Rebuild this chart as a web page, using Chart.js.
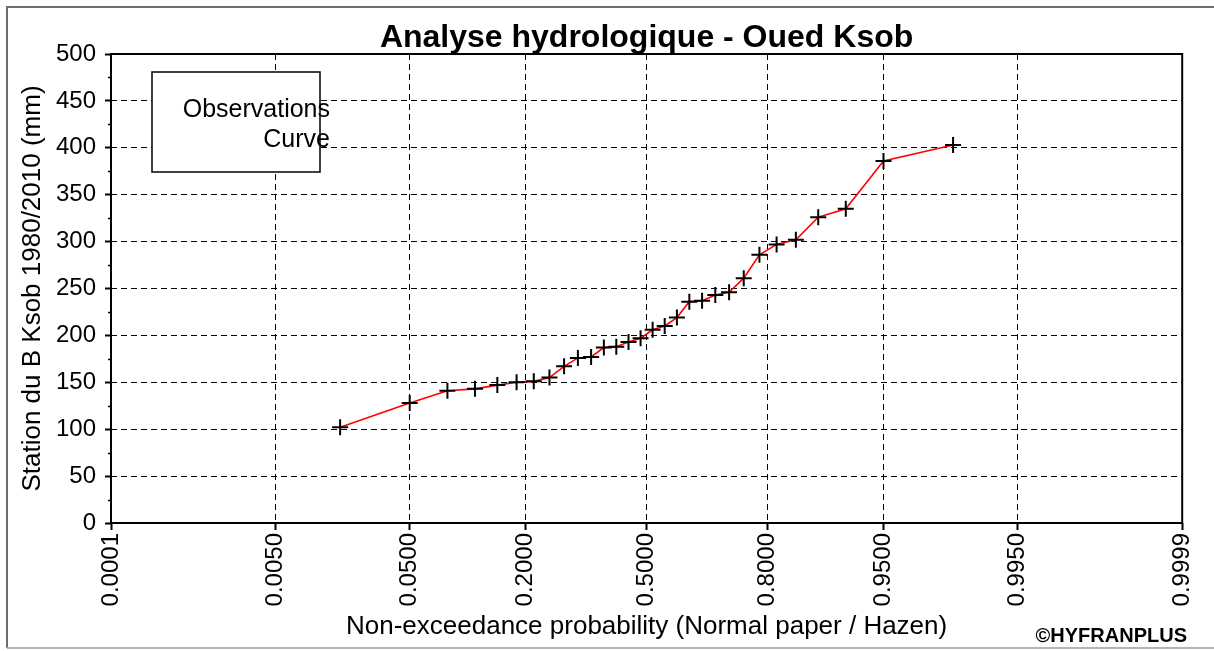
<!DOCTYPE html>
<html>
<head>
<meta charset="utf-8">
<script src="https://cdn.jsdelivr.net/npm/chart.js@4.4.0/dist/chart.umd.min.js"></script>
<style>
  html, body { margin: 0; padding: 0; background: #fff; }
  canvas { display: block; }
</style>
</head>
<body>
<canvas id="hydroChart" width="1214" height="651"></canvas>
<script>
// Annual totals, ranked ascending (mm)
const rainfall = [102, 128, 141, 143, 147, 150, 151, 155, 167, 176, 177, 187, 188, 193, 197,
                  206, 210, 219, 236, 237, 243, 246, 261, 286, 297, 302, 326, 335, 386, 403];
const probTicks = [0.0001, 0.005, 0.05, 0.2, 0.5, 0.8, 0.95, 0.995, 0.9999];
const yMin = 0;
const yMax = 500;
const yStep = 50;

const chartTitle = 'Analyse hydrologique - Oued Ksob';
const yAxisTitle = 'Station du B Ksob 1980/2010 (mm)';
const xAxisTitle = 'Non-exceedance probability (Normal paper / Hazen)';
const legendLabels = ['Observations', 'Curve'];
const credit = '\u00A9HYFRANPLUS';

const FONT = "'Liberation Sans', Arial, sans-serif";
const TEXT_COLOR = '#000';

// Inverse of the standard normal CDF (Acklam's rational approximation)
function probit(p) {
  const a = [-3.969683028665376e+01, 2.209460984245205e+02, -2.759285104469687e+02,
             1.383577518672690e+02, -3.066479806614716e+01, 2.506628277459239e+00];
  const b = [-5.447609879822406e+01, 1.615858368580409e+02, -1.556989798598866e+02,
             6.680131188771972e+01, -1.328068155288572e+01];
  const c = [-7.784894002430293e-03, -3.223964580411365e-01, -2.400758277161838e+00,
             -2.549732539343734e+00, 4.374664141464968e+00, 2.938163982698783e+00];
  const d = [7.784695709041462e-03, 3.224671290700398e-01, 2.445134137142996e+00,
             3.754408661907416e+00];
  const pLow = 0.02425;
  if (p < pLow) {
    const q = Math.sqrt(-2 * Math.log(p));
    return (((((c[0] * q + c[1]) * q + c[2]) * q + c[3]) * q + c[4]) * q + c[5]) /
           ((((d[0] * q + d[1]) * q + d[2]) * q + d[3]) * q + 1);
  }
  if (p > 1 - pLow) return -probit(1 - p);
  const q = p - 0.5;
  const r = q * q;
  return (((((a[0] * r + a[1]) * r + a[2]) * r + a[3]) * r + a[4]) * r + a[5]) * q /
         (((((b[0] * r + b[1]) * r + b[2]) * r + b[3]) * r + b[4]) * r + 1);
}

// Hazen plotting positions on normal paper
const points = rainfall.map((v, i) => ({ x: probit((i + 0.5) / rainfall.length), y: v }));

// Frame, minor ticks, title, legend box and credit
const decorations = {
  id: 'decorations',
  beforeDraw(chart) {
    const { ctx } = chart;
    ctx.save();
    ctx.lineWidth = 2;
    ctx.strokeStyle = '#6e6e6e';
    ctx.beginPath();
    ctx.moveTo(7, 648);
    ctx.lineTo(7, 7);
    ctx.lineTo(1214, 7);
    ctx.stroke();
    ctx.strokeStyle = '#b4b4b4';
    ctx.beginPath();
    ctx.moveTo(7, 648);
    ctx.lineTo(1214, 648);
    ctx.stroke();
    ctx.restore();
  },
  afterDraw(chart) {
    const { ctx, chartArea: area, scales } = chart;
    ctx.save();

    ctx.strokeStyle = '#000';
    ctx.lineWidth = 2;
    ctx.strokeRect(area.left, area.top, area.right - area.left, area.bottom - area.top);

    ctx.lineWidth = 1.5;
    ctx.beginPath();
    for (let v = yMin + yStep / 2; v < yMax; v += yStep) {
      const py = Math.round(scales.y.getPixelForValue(v)) + 0.5;
      ctx.moveTo(area.left - 3, py);
      ctx.lineTo(area.left, py);
    }
    ctx.stroke();

    ctx.fillStyle = TEXT_COLOR;
    ctx.font = `bold 32px ${FONT}`;
    ctx.textAlign = 'center';
    ctx.textBaseline = 'alphabetic';
    ctx.fillText(chartTitle, (area.left + area.right) / 2, 47);

    ctx.fillStyle = '#fff';
    ctx.fillRect(152, 72, 168, 100);
    ctx.lineWidth = 1.5;
    ctx.strokeRect(152, 72, 168, 100);
    ctx.fillStyle = TEXT_COLOR;
    ctx.font = `25px ${FONT}`;
    ctx.textAlign = 'right';
    ctx.fillText(legendLabels[0], 330, 117);
    ctx.fillText(legendLabels[1], 330, 147);

    ctx.font = `bold 20px ${FONT}`;
    ctx.fillText(credit, 1187, 642);
    ctx.restore();
  }
};

const tickFont = { family: FONT, size: 24 };
const titleFont = { family: FONT, size: 26 };

new Chart(document.getElementById('hydroChart'), {
  type: 'scatter',
  data: {
    datasets: [{
      label: legendLabels[0],
      data: points,
      showLine: false,
      pointStyle: 'cross',
      pointRadius: 8,
      pointBorderWidth: 2,
      pointBorderColor: '#000',
      pointBackgroundColor: '#000'
    }, {
      label: legendLabels[1],
      data: points,
      showLine: true,
      borderColor: '#ff0000',
      borderWidth: 1.6,
      pointRadius: 0,
      tension: 0
    }]
  },
  options: {
    responsive: false,
    animation: false,
    events: [],
    layout: { padding: { left: 8, top: 54, right: 28, bottom: 0 } },
    plugins: {
      legend: { display: false },
      tooltip: { enabled: false },
      title: { display: false }
    },
    scales: {
      x: {
        type: 'linear',
        min: probit(probTicks[0]),
        max: probit(probTicks[probTicks.length - 1]),
        afterBuildTicks: scale => {
          scale.ticks = probTicks.map(p => ({ value: probit(p) }));
        },
        afterFit: scale => { scale.height = 128; },
        ticks: {
          autoSkip: false,
          minRotation: 90,
          maxRotation: 90,
          padding: 3,
          color: TEXT_COLOR,
          font: tickFont,
          callback: (value, index) => probTicks[index].toFixed(4)
        },
        grid: { color: '#000', lineWidth: 1, tickLength: 7, tickWidth: 2 },
        border: { display: false, dash: [6, 4] },
        title: {
          display: true,
          text: xAxisTitle,
          color: TEXT_COLOR,
          font: titleFont,
          padding: { top: 0, bottom: 9 }
        }
      },
      y: {
        min: yMin,
        max: yMax,
        afterFit: scale => { scale.width = 103; },
        ticks: { stepSize: yStep, padding: 9, color: TEXT_COLOR, font: tickFont },
        grid: { color: '#000', lineWidth: 1, tickLength: 6, tickWidth: 2 },
        border: { display: false, dash: [6, 4] },
        title: {
          display: true,
          text: yAxisTitle,
          color: TEXT_COLOR,
          font: titleFont,
          padding: { top: 9, bottom: 0 }
        }
      }
    }
  },
  plugins: [decorations]
});
</script>
</body>
</html>
